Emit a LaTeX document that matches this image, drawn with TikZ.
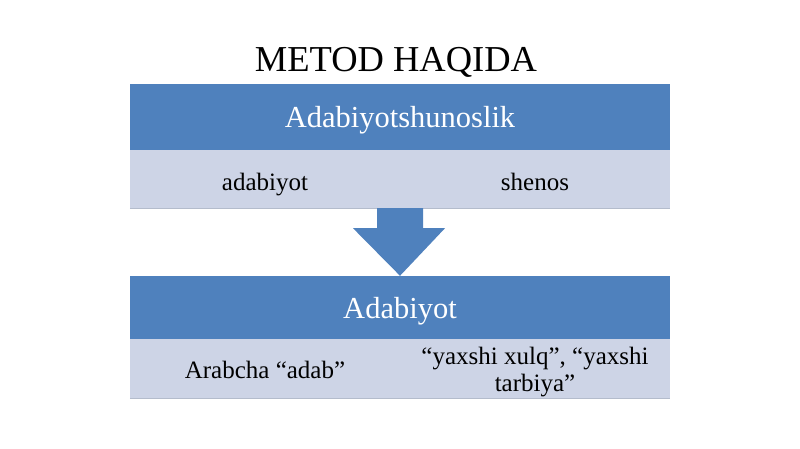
\documentclass[tikz,border=0pt]{standalone}
\usepackage{fontspec}
\setmainfont{Liberation Serif}
\usetikzlibrary{calc}

\definecolor{headblue}{HTML}{4F81BD}
\definecolor{paleblue}{HTML}{CDD4E6}
\definecolor{edgegray}{HTML}{B4BCCC}

\begin{document}
\begin{tikzpicture}[x=1pt,y=-1pt]
        \useasboundingbox (0,0) rectangle (800,449);

        \tikzset{
            head/.style={fill=headblue, text=white, minimum width=540pt, inner sep=0pt, text depth=0pt, font=\fontsize{30.5}{34}\selectfont},
            body/.style={fill=paleblue, minimum width=540pt, inner sep=0pt},
            cell/.style={align=center, inner sep=0pt, font=\fontsize{25}{27}\selectfont}
        }

        % title
        \node[anchor=base, inner sep=0pt] (title) at (396,72) {\fontsize{36.5}{40}\selectfont METOD HAQIDA};

        % first block
        \node[head, minimum height=66pt] (headA) at (400,117) {Adabiyotshunoslik};
        \node[body, minimum height=58pt] (bodyA) at (400,179) {};
        \draw[edgegray] (bodyA.south west) -- (bodyA.south east);
        \node[cell, anchor=base] (wordA) at (265,190) {adabiyot};
        \node[cell, anchor=base] (wordB) at (535,190) {shenos};

        % second block
        \node[head, minimum height=63pt] (headB) at (400,307.5) {Adabiyot};
        \node[body, minimum height=59pt] (bodyB) at (400,368.5) {};
        \draw[edgegray] (bodyB.south west) -- (bodyB.south east);
        \node[cell, anchor=base] (wordC) at (265,378) {Arabcha “adab”};
        \node[cell] (wordD) at (535,372) {“yaxshi xulq”, “yaxshi\\tarbiya”};

        % block arrow between the two blocks
        \fill[headblue] ($(bodyA.south)+(-23,0)$) -- ($(bodyA.south)+(23,0)$)
              -- ($(bodyA.south)+(23,20)$) -- ($(bodyA.south)+(45,20)$)
              -- (headB.north) -- ($(bodyA.south)+(-47,20)$)
              -- ($(bodyA.south)+(-23,20)$) -- cycle;
\end{tikzpicture}
\end{document}
